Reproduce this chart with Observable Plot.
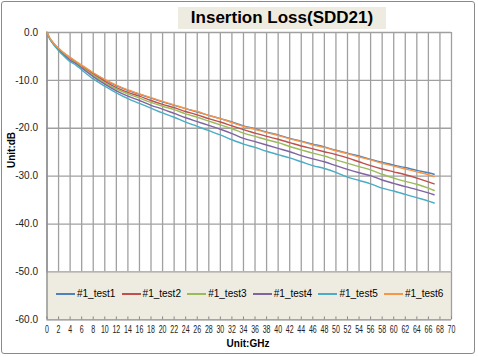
<!DOCTYPE html>
<html>
<head>
<meta charset="utf-8">
<script src="https://cdn.jsdelivr.net/npm/d3@7"></script>
<script src="https://cdn.jsdelivr.net/npm/@observablehq/plot@0.6"></script>
<style>
  html, body { margin: 0; padding: 0; background: #fff; }
  #wrap { position: relative; width: 478px; height: 357px; overflow: hidden; font-family: "Liberation Sans", Arial, sans-serif; }
  #frame { position: absolute; left: 1px; top: 1px; width: 472px; height: 351px; border: 1.5px solid #8a8a8a; border-radius: 3px; pointer-events: none; }
  #title { position: absolute; left: 178px; top: 7px; width: 208px; height: 22px; background: #EEECE1; font-weight: bold; font-size: 17px; line-height: 22px; text-align: center; color: #000; }
  #ylab { position: absolute; left: 11px; top: 150px; transform: translate(-50%, -50%) rotate(-90deg); font-weight: bold; font-size: 10px; white-space: nowrap; color: #000; }
  #xlab { position: absolute; left: 248px; top: 343px; transform: translate(-50%, -50%); font-weight: bold; font-size: 10px; white-space: nowrap; color: #000; }
  #legend { position: absolute; left: 56px; top: 288px; display: flex; }
  .item { width: 65.6px; display: flex; align-items: center; font-size: 10px; color: #000; white-space: nowrap; }
  .sw { display: block; flex: none; width: 19px; height: 2px; margin-right: 2px; }
</style>
</head>
<body>
<div id="wrap">
  <div id="chart"></div>
  <div id="title">Insertion Loss(SDD21)</div>
  <div id="ylab">Unit:dB</div>
  <div id="xlab">Unit:GHz</div>
  <div id="legend"></div>
  <div id="frame"></div>
</div>
<script>
// ---- data ----
const freqs = [0,0.5,1,1.5,2,3,4,5,6,8,10,12,14,16,18,20,22,24,26,28,30,32,34,36,38,40,42,44,46,48,50,52,54,56,58,60,62,64,66,67];
const seriesNames = ["#1_test1","#1_test2","#1_test3","#1_test4","#1_test5","#1_test6"];
const seriesColors = ["#4F81BD","#C0504D","#9BBB59","#8064A2","#4BACC6","#F79646"];
const test1 = [0,-1.3,-2.1,-2.8,-3.4,-4.4,-5.3,-6.1,-6.9,-8.5,-9.9,-11.1,-12.1,-12.9,-13.7,-14.5,-15.2,-15.9,-16.6,-17.3,-18.0,-18.7,-19.5,-20.1,-20.8,-21.4,-22.1,-22.7,-23.3,-23.9,-24.6,-25.2,-25.8,-26.5,-27.1,-27.7,-28.2,-28.8,-29.3,-29.6];
const test2 = [0,-1.25,-2.05,-2.8,-3.4,-4.5,-5.4,-6.2,-7.0,-8.7,-10.2,-11.5,-12.5,-13.3,-14.2,-15.0,-15.7,-16.5,-17.2,-18.0,-18.7,-19.5,-20.3,-21.0,-21.7,-22.3,-23.0,-23.7,-24.3,-24.9,-25.5,-26.2,-27.0,-27.8,-28.5,-29.1,-29.7,-30.4,-31.2,-31.6];
const test3 = [0,-1.3,-2.1,-2.85,-3.5,-4.6,-5.6,-6.35,-7.2,-8.9,-10.5,-11.8,-12.8,-13.7,-14.6,-15.4,-16.1,-17.0,-17.7,-18.5,-19.3,-20.1,-21.0,-21.7,-22.4,-23.0,-23.8,-24.5,-25.2,-25.8,-26.6,-27.3,-28.0,-28.7,-29.6,-30.4,-31.1,-31.7,-32.5,-33.0];
const test4 = [0,-1.35,-2.2,-2.95,-3.6,-4.75,-5.8,-6.5,-7.4,-9.2,-10.8,-12.2,-13.3,-14.2,-15.2,-16.0,-16.9,-17.8,-18.6,-19.4,-20.2,-21.1,-22.1,-22.8,-23.5,-24.2,-24.9,-25.7,-26.4,-27.0,-27.8,-28.6,-29.3,-29.9,-30.8,-31.5,-32.2,-32.8,-33.5,-33.9];
const test5 = [0,-1.4,-2.3,-3.1,-3.8,-5.0,-6.1,-6.8,-7.8,-9.7,-11.2,-12.6,-13.8,-14.8,-15.8,-16.8,-17.7,-18.7,-19.6,-20.5,-21.4,-22.4,-23.3,-24.0,-24.8,-25.5,-26.2,-27.0,-27.8,-28.4,-29.2,-30.2,-30.9,-31.6,-32.5,-33.1,-33.8,-34.5,-35.2,-35.6];
const test6 = [0,-1.2,-2.0,-2.7,-3.3,-4.3,-5.2,-6.0,-6.8,-8.4,-9.8,-11.0,-12.0,-12.8,-13.6,-14.4,-15.1,-15.9,-16.5,-17.3,-18.0,-18.8,-19.6,-20.2,-20.9,-21.5,-22.2,-22.8,-23.5,-24.0,-24.7,-25.3,-26.0,-26.6,-27.3,-27.9,-28.5,-29.1,-29.7,-30.1];
const xTicks = [0,2,4,6,8,10,12,14,16,18,20,22,24,26,28,30,32,34,36,38,40,42,44,46,48,50,52,54,56,58,60,62,64,66,68,70];
const yTicks = [0,-10,-20,-30,-40,-50,-60];
const legendBand = [-60,-50];

const allSeries = [test1,test2,test3,test4,test5,test6];
const rows = allSeries.flatMap((vals, i) => vals.map((v, j) => ({f: freqs[j], v, s: seriesNames[i]})));
const gridYT = yTicks.filter(t => t > legendBand[1]);
const band = [{y1: legendBand[0], y2: legendBand[1]}];
const gridCol = "#a0a0a0";

const chart = Plot.plot({
  width: 478, height: 357,
  marginLeft: 46.5, marginRight: 27, marginTop: 32, marginBottom: 37.7,
  style: {fontFamily: '"Liberation Sans", Arial, sans-serif', fontSize: "10px", color: "#222", background: "transparent"},
  x: {domain: [0, 70], ticks: xTicks, tickSize: 0, tickPadding: 6, label: null, tickFormat: d => String(d)},
  y: {domain: [-60, 0], ticks: yTicks, tickSize: 0, tickPadding: 9, label: null, tickFormat: d => d.toFixed(1)},
  color: {domain: seriesNames, range: seriesColors},
  marks: [
    Plot.ruleX(xTicks, {y1: legendBand[1], y2: 0, stroke: gridCol, strokeWidth: 1.3}),
    Plot.ruleY(gridYT, {stroke: gridCol, strokeWidth: 1.3}),
    Plot.rect(band, {x1: 0, x2: 70, y1: "y1", y2: "y2", fill: "#EEECE1"}),
    Plot.ruleY([legendBand[1]], {stroke: gridCol, strokeWidth: 1.3}),
    Plot.ruleX([70], {y1: legendBand[0], y2: legendBand[1], stroke: gridCol, strokeWidth: 1.3}),
    Plot.ruleX(xTicks, {y1: legendBand[0], y2: legendBand[0] + 0.6, stroke: "#888", strokeWidth: 1}),
    Plot.ruleY([legendBand[0]], {stroke: "#888", strokeWidth: 1.3}),
    Plot.ruleX([0], {stroke: "#888", strokeWidth: 1.3}),
    Plot.line(rows, {x: "f", y: "v", z: "s", stroke: "s", strokeWidth: 1.4, curve: "monotone-x"})
  ]
});
document.getElementById("chart").appendChild(chart);

// condense x tick labels like the original narrow font
chart.querySelectorAll('[aria-label="x-axis tick label"] text').forEach(t => {
  const n = t.textContent.length;
  t.setAttribute("textLength", (n * 3.9).toFixed(1));
  t.setAttribute("lengthAdjust", "spacingAndGlyphs");
});

const leg = document.getElementById("legend");
seriesNames.forEach((n, i) => {
  const it = document.createElement("div");
  it.className = "item";
  const sw = document.createElement("span");
  sw.className = "sw";
  sw.style.backgroundColor = seriesColors[i];
  const tx = document.createElement("span");
  tx.textContent = n;
  it.appendChild(sw); it.appendChild(tx);
  leg.appendChild(it);
});
</script>
</body>
</html>
